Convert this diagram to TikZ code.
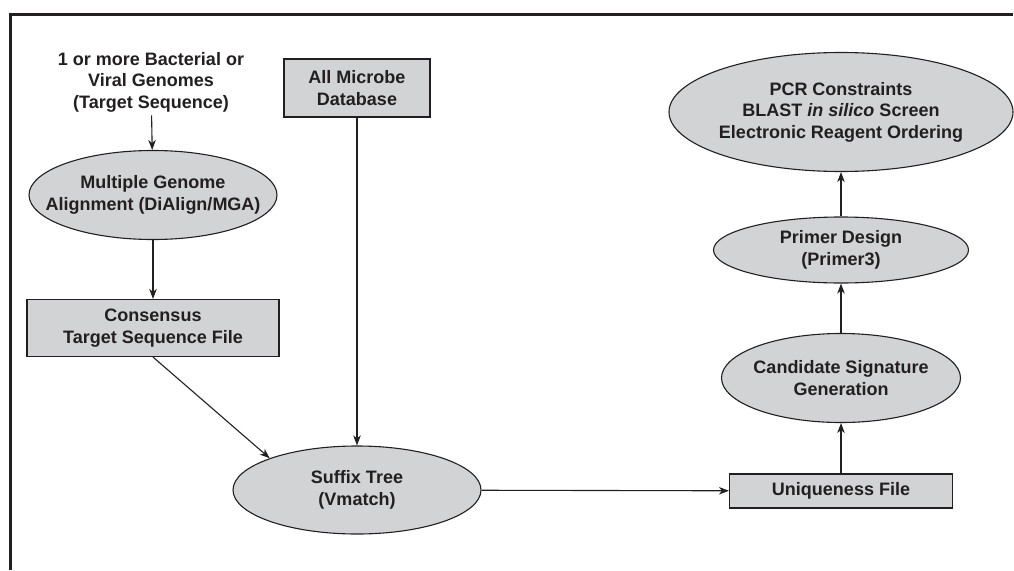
\documentclass[tikz,border=0pt]{standalone}
\usepackage{fontspec}
\setmainfont{Liberation Sans}
\usepackage{xcolor}
\usetikzlibrary{shapes.geometric, arrows.meta, positioning, calc}

\definecolor{boxgray}{HTML}{D1D3D4}
\definecolor{inkdark}{HTML}{231F20}

\begin{document}
\begin{tikzpicture}[x=1pt, y=-1pt,
  every node/.style={font=\bfseries\fontsize{18}{21.5}\selectfont, text=inkdark, align=center},
  procnode/.style={ellipse, draw=inkdark, fill=boxgray, line width=1.1pt, inner xsep=-30pt, inner ysep=-10pt},
  filebox/.style={rectangle, draw=inkdark, fill=boxgray, line width=1.1pt, inner sep=0pt},
  flow/.style={draw=inkdark, line width=1.1pt, -{Stealth[length=10pt, width=7.5pt, inset=3pt]}}]
  \useasboundingbox (0,0) rectangle (1014,570);

  % Frame (top and left edge)
  \draw[inkdark, line width=3pt] (10,570) -- (10,14) -- (1013,14);

  % Left column
  \node (genomes) at (151,82) {1 or more Bacterial or\\Viral Genomes\\(Target Sequence)};
  \node[procnode, minimum width=248pt, minimum height=89pt] (mga) at (153,195)
    {Multiple Genome\\Alignment (DiAlign/MGA)};
  \node[filebox, minimum width=252pt, minimum height=57pt] (consensus) at (153,328)
    {Consensus\\Target Sequence File};

  % Middle
  \node[filebox, minimum width=146pt, minimum height=58pt] (microbe) at (357,88)
    {All Microbe\\Database};
  \node[procnode, minimum width=248pt, minimum height=88pt] (suffix) at (357,490)
    {Suffix Tree\\(Vmatch)};

  % Right column
  \node[filebox, minimum width=223pt, minimum height=34pt] (unique) at (841,491)
    {Uniqueness File};
  \node[procnode, minimum width=239pt, minimum height=89pt] (candidate) at (841,378)
    {Candidate Signature\\Generation};
  \node[procnode, minimum width=255pt, minimum height=66pt] (primer) at (841,250)
    {Primer Design\\(Primer3)};
  \node[procnode, minimum width=344pt, minimum height=119pt] (pcr) at (841,112)
    {PCR Constraints\\BLAST \textit{in silico} Screen\\Electronic Reagent Ordering};

  % Connectors
  \draw[flow] (genomes) -- (mga);
  \draw[flow] (mga) -- (consensus);
  \draw[flow] (consensus.south) -- (suffix.160);
  \draw[flow] (microbe) -- (suffix);
  \draw[flow] (suffix) -- (unique);
  \draw[flow] (unique) -- (candidate);
  \draw[flow] (candidate) -- (primer);
  \draw[flow] (primer) -- (pcr);
\end{tikzpicture}
\end{document}
